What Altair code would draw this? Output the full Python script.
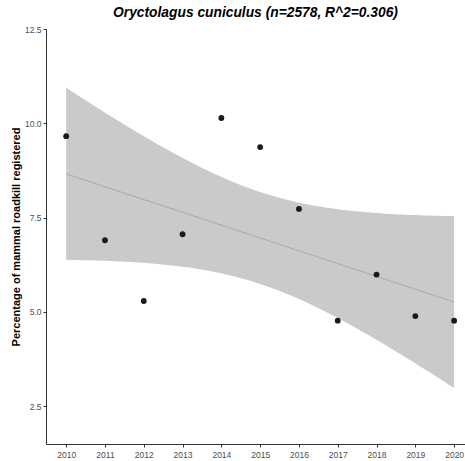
import altair as alt
import numpy as np
import pandas as pd

# Yearly share of mammal roadkill attributed to Oryctolagus cuniculus
years = [2010, 2011, 2012, 2013, 2014, 2015, 2016, 2017, 2018, 2019, 2020]
percent = [9.66, 6.90, 5.29, 7.06, 10.14, 9.37, 7.73, 4.77, 5.99, 4.89, 4.77]

y_ticks = [2.5, 5.0, 7.5, 10.0, 12.5]
title_text = "Oryctolagus cuniculus (n=2578, R^2=0.306)"
y_title = "Percentage of mammal roadkill registered"

# Ordinary least squares fit with a 95% confidence band (as geom_smooth(method="lm"))
x = np.array(years, dtype=float)
y = np.array(percent, dtype=float)
n = len(x)
xbar, ybar = x.mean(), y.mean()
sxx = ((x - xbar) ** 2).sum()
slope = ((x - xbar) * (y - ybar)).sum() / sxx
intercept = ybar - slope * xbar
resid = y - (intercept + slope * x)
s = np.sqrt((resid ** 2).sum() / (n - 2))
t_crit = 2.262157  # t quantile 0.975, df = 9

grid = np.linspace(x.min(), x.max(), 80)
fit = intercept + slope * grid
se = s * np.sqrt(1.0 / n + (grid - xbar) ** 2 / sxx)
band = pd.DataFrame({"year": grid, "fit": fit,
                     "lo": fit - t_crit * se, "hi": fit + t_crit * se})
points = pd.DataFrame({"year": years, "pct": percent})

FONT = "Liberation Sans"
xscale = alt.Scale(domain=[2009.48, 2020.28], nice=False, zero=False)
yscale = alt.Scale(domain=[1.5, 12.5], nice=False, zero=False)

x_axis = alt.Axis(values=years, format="d", title=None, grid=False,
                  domainColor="#333333", tickColor="#333333", tickSize=3,
                  labelColor="#4d4d4d", labelFontSize=8.5, labelFont=FONT,
                  labelPadding=3)
y_axis = alt.Axis(values=y_ticks, format=".1f", title=y_title, grid=False,
                  domainColor="#333333", tickColor="#333333", tickSize=3,
                  labelColor="#4d4d4d", labelFontSize=8.5, labelFont=FONT,
                  labelPadding=2, titleFont=FONT, titleFontSize=11,
                  titleFontWeight="bold", titleColor="#000000", titlePadding=3)

area = alt.Chart(band).mark_area(color="#c9cacc", opacity=1).encode(
    x=alt.X("year:Q", scale=xscale, axis=x_axis),
    y=alt.Y("lo:Q", scale=yscale, axis=y_axis),
    y2="hi:Q",
)
line = alt.Chart(band).mark_line(color="#a9a9ab", strokeWidth=1).encode(
    x=alt.X("year:Q", scale=xscale),
    y=alt.Y("fit:Q", scale=yscale),
)
dots = alt.Chart(points).mark_point(filled=True, size=34, color="#1a1a1a",
                                    opacity=1).encode(
    x=alt.X("year:Q", scale=xscale),
    y=alt.Y("pct:Q", scale=yscale),
)

chart = (
    alt.layer(area, line, dots)
    .properties(
        width=419,
        height=415,
        title=alt.TitleParams(title_text, font=FONT, fontSize=13.8,
                              fontWeight="bold", fontStyle="italic",
                              color="#000000", anchor="middle", offset=5),
        autosize=alt.AutoSizeParams(type="none"),
        padding={"left": 46, "top": 29, "right": 0, "bottom": 17},
        background="white",
    )
    .configure_view(stroke=None)
)

chart.save("out.html", embed_options={"renderer": "svg", "actions": False})
